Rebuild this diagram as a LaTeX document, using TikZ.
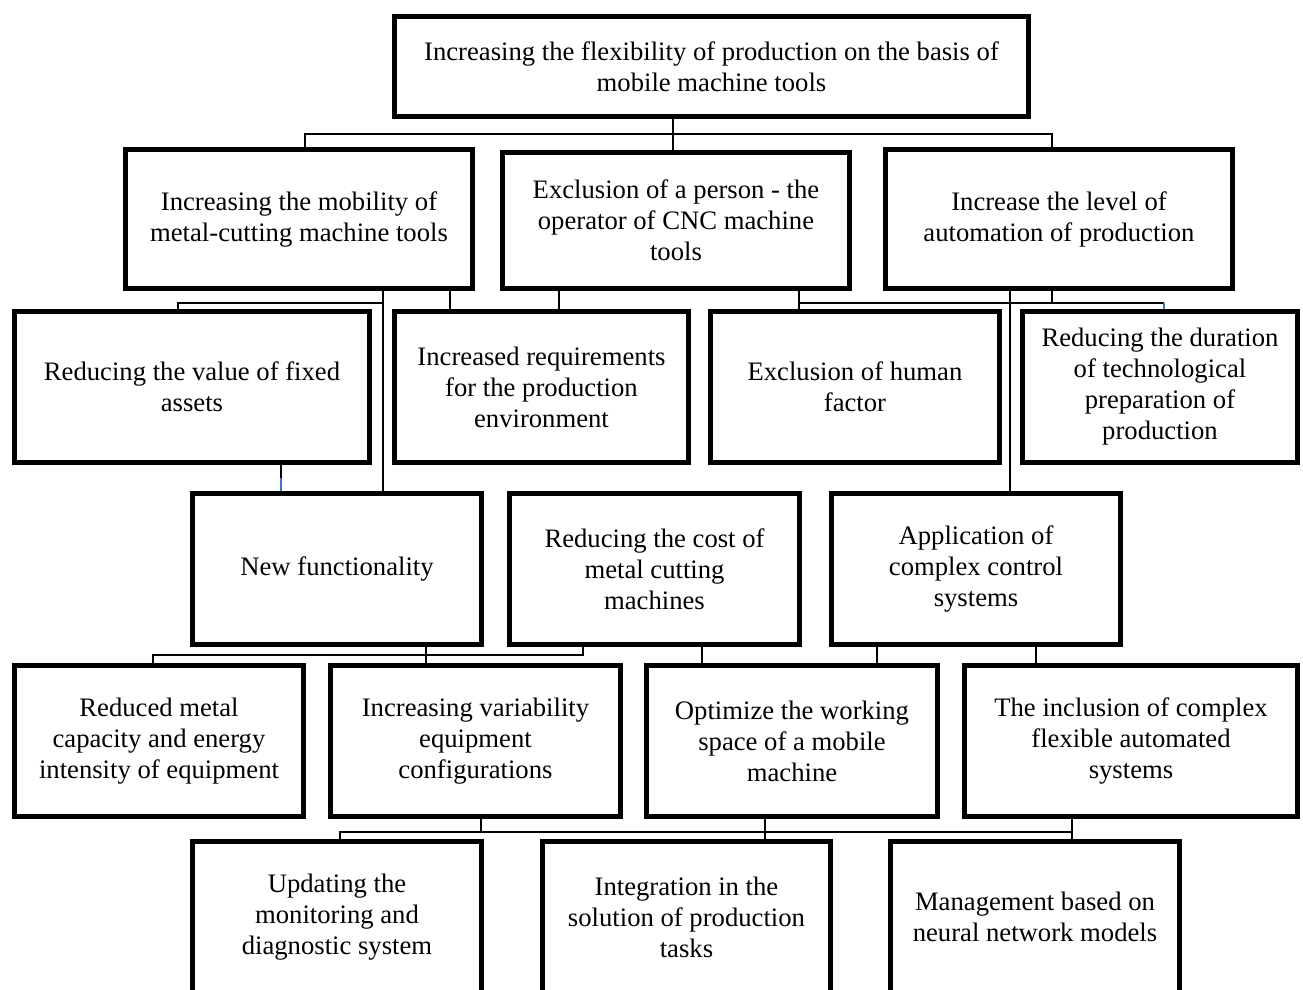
\documentclass[tikz,border=0pt]{standalone}
\usepackage{fontspec}
\setmainfont{Liberation Serif}
\definecolor{tickblue}{RGB}{68,114,196}
\newlength\pxu
\setlength\pxu{0.45pt}

\begin{document}
\begin{tikzpicture}[x=0.45pt,y=-0.45pt,
    box/.style={draw,line width=2.1pt,align=center,inner sep=0pt,
      font=\fontsize{12pt}{13.95pt}\selectfont},
    link/.style={line width=0.8pt},
    bluetick/.style={tickblue,line width=0.8pt}]
  \useasboundingbox (0,0) rectangle (1303,990);
  \clip (0,0) rectangle (1303,990);

  % top level
  \node[box,minimum width=634*\pxu,minimum height=100*\pxu] (goal) at (711.5,66.5)
    {Increasing the flexibility of production on the basis of\\mobile machine tools};

  % second row
  \node[box,minimum width=347*\pxu,minimum height=139*\pxu] (mobility) at (299,219)
    {Increasing the mobility of\\metal-cutting machine tools};
  \node[box,minimum width=347*\pxu,minimum height=136*\pxu] (operator) at (676,220.5)
    {Exclusion of a person - the\\operator of CNC machine\\tools};
  \node[box,minimum width=347*\pxu,minimum height=139*\pxu] (automation) at (1059,219)
    {Increase the level of\\automation of production};

  % third row
  \node[box,minimum width=355*\pxu,minimum height=151*\pxu] (assets) at (192,387)
    {Reducing the value of fixed\\assets};
  \node[box,minimum width=294*\pxu,minimum height=151*\pxu] (environment) at (541.5,387)
    {Increased requirements\\for the production\\environment};
  \node[box,minimum width=289*\pxu,minimum height=151*\pxu] (human) at (855,387)
    {Exclusion of human\\factor};
  \node[box,minimum width=275*\pxu,minimum height=151*\pxu] (duration) at (1160,387)
    {Reducing the duration\\of technological\\preparation of\\production};

  % fourth row
  \node[box,minimum width=289*\pxu,minimum height=151*\pxu] (newfunc) at (337,569)
    {New functionality};
  \node[box,minimum width=290*\pxu,minimum height=151*\pxu] (cost) at (654.5,569)
    {Reducing the cost of\\metal cutting\\machines};
  \node[box,minimum width=289*\pxu,minimum height=151*\pxu] (control) at (976,569)
    {Application of\\complex control\\systems};

  % fifth row
  \node[box,minimum width=289*\pxu,minimum height=151*\pxu] (metal) at (159,741)
    {Reduced metal\\capacity and energy\\intensity of equipment};
  \node[box,minimum width=290*\pxu,minimum height=151*\pxu] (variability) at (475.5,741)
    {Increasing variability\\equipment\\configurations};
  \node[box,minimum width=291*\pxu,minimum height=151*\pxu] (workspace) at (792,741)
    {Optimize the working\\space of a mobile\\machine};
  \node[box,minimum width=333*\pxu,minimum height=151*\pxu] (flexible) at (1131,741)
    {The inclusion of complex\\flexible automated\\systems};

  % sixth row
  \node[box,minimum width=289*\pxu,minimum height=151*\pxu] (monitoring) at (337,917)
    {Updating the\\monitoring and\\diagnostic system};
  \node[box,minimum width=288*\pxu,minimum height=151*\pxu] (integration) at (686.5,917)
    {Integration in the\\solution of production\\tasks};
  \node[box,minimum width=289*\pxu,minimum height=151*\pxu] (neural) at (1035,917)
    {Management based on\\neural network models};

  % first to second row
  \draw[link] (goal.south -| 673,0) -- (operator.north -| 673,0);
  \draw[link] (mobility.north -| 305,0) -- (305,134) -- (1052,134) -- (automation.north -| 1052,0);

  % second to third row
  \draw[link] (mobility.south -| 383,0) -- (newfunc.north -| 383,0);
  \draw[link] (assets.north -| 178,0) -- (178,303) -- (383,303);
  \draw[link] (mobility.south -| 450,0) -- (environment.north -| 450,0);
  \draw[link] (operator.south -| 559,0) -- (environment.north -| 559,0);
  \draw[link] (operator.south -| 799,0) -- (human.north -| 799,0);
  \draw[link] (799,303) -- (1164,303);
  \draw[link] (automation.south -| 1052,0) -- (1052,303);
  \draw[bluetick] (1164,303) -- (duration.north -| 1164,0);
  \draw[link] (automation.south -| 1010,0) -- (control.north -| 1010,0);

  % third to fourth row
  \draw[link] (assets.south -| 281,0) -- (281,478);
  \draw[bluetick] (281,478) -- (newfunc.north -| 281,0);

  % fourth to fifth row
  \draw[link] (newfunc.south -| 426,0) -- (variability.north -| 426,0);
  \draw[link] (metal.north -| 153,0) -- (153,655) -- (583,655) -- (cost.south -| 583,0);
  \draw[link] (cost.south -| 702,0) -- (workspace.north -| 702,0);
  \draw[link] (control.south -| 877,0) -- (workspace.north -| 877,0);
  \draw[link] (control.south -| 1036,0) -- (flexible.north -| 1036,0);

  % fifth to sixth row
  \draw[link] (variability.south -| 481,0) -- (481,832);
  \draw[link] (monitoring.north -| 340,0) -- (340,832) -- (1072,832) -- (flexible.south -| 1072,0);
  \draw[link] (workspace.south -| 765,0) -- (integration.north -| 765,0);
  \draw[link] (1072,832) -- (neural.north -| 1072,0);
\end{tikzpicture}
\end{document}
